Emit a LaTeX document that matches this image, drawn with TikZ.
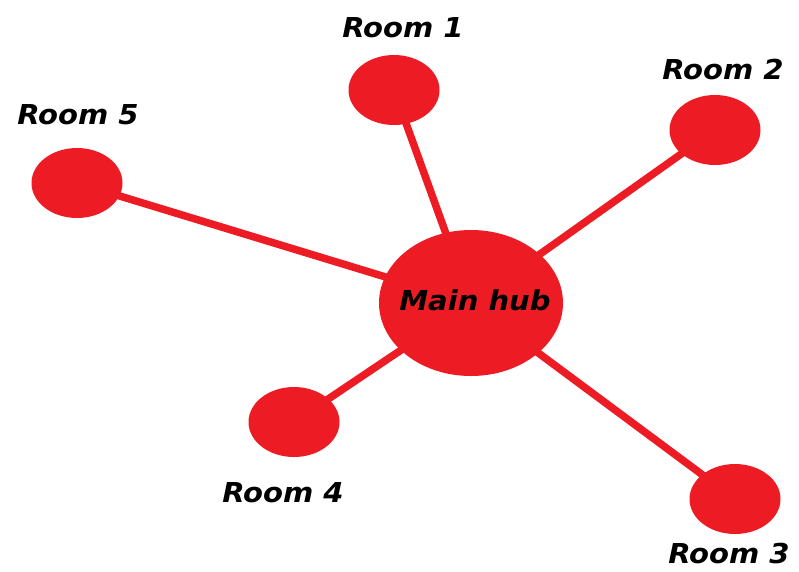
\documentclass[tikz,border=0pt]{standalone}
\usepackage{fontspec}
\newfontfamily\labfont[FakeStretch=1.06]{DejaVu Sans}
\usetikzlibrary{shapes.geometric,backgrounds}
\definecolor{hubred}{HTML}{ED1C24}
\tikzset{
  room/.style={ellipse, fill=hubred, draw=none, minimum width=91pt, minimum height=70pt, inner sep=0pt},
  hub/.style={ellipse, fill=hubred, draw=none, minimum width=184pt, minimum height=146pt, inner sep=0pt},
  lab/.style={font=\labfont\bfseries\itshape\fontsize{27.4}{30}\selectfont, text=black, inner sep=0pt, anchor=base},
  link/.style={draw=hubred, line width=7.5pt}
}
\begin{document}
\begin{tikzpicture}[x=1pt,y=-1pt]
\useasboundingbox (0,0) rectangle (799,571);
\node[hub] (hub) at (471,303) {};
\node[room] (r1) at (394,90) {};
\node[room] (r2) at (715,130) {};
\node[room] (r3) at (735,499) {};
\node[room] (r4) at (294,422) {};
\node[room] (r5) at (77,183) {};
\node[lab] (hubl) at (475,310) {Main hub};
\node[lab] (l1) at (403,37) {Room 1};
\node[lab] (l2) at (723,79) {Room 2};
\node[lab] (l3) at (729,563) {Room 3};
\node[lab] (l4) at (283,502) {Room 4};
\node[lab] (l5) at (78,124) {Room 5};
\begin{scope}[on background layer]
\draw[link] (hub.center) -- (r1.center);
\draw[link] (hub.center) -- (r2.center);
\draw[link] (hub.center) -- (r3.center);
\draw[link] (hub.center) -- (r4.center);
\draw[link] (hub.center) -- (r5.center);
\end{scope}
\end{tikzpicture}
\end{document}
